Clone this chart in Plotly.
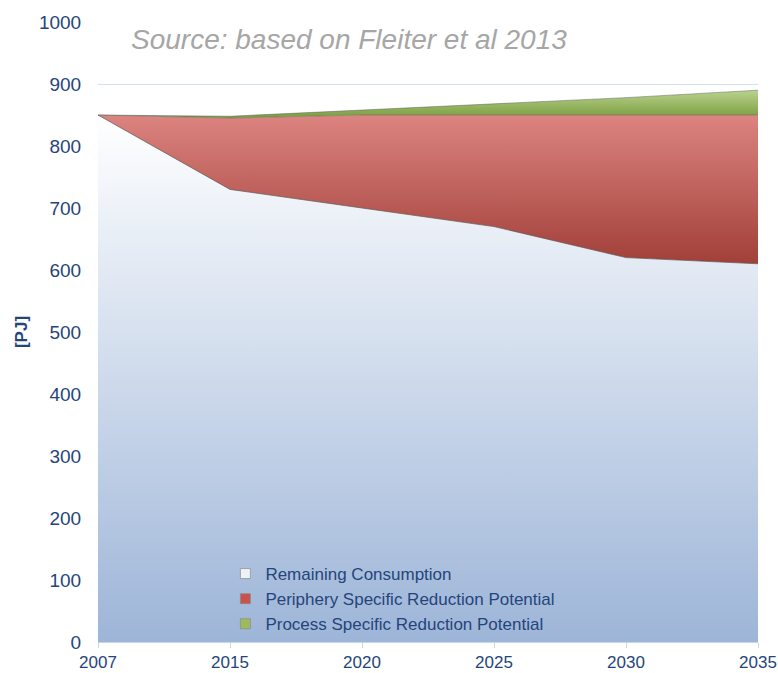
import plotly.graph_objects as go

years = ["2007", "2015", "2020", "2025", "2030", "2035"]
remaining = [850, 730, 700, 670, 620, 610]
periphery = [0, 115, 150, 180, 230, 240]
process = [0, 3, 8, 18, 28, 40]

names = ["Remaining Consumption", "Periphery Specific Reduction Potential",
         "Process Specific Reduction Potential"]
legend_colors = ["#eef2f8", "#c9524c", "#9dbb5c"]

fig = go.Figure()
fig.add_trace(go.Scatter(
    x=years, y=remaining, name=names[0], stackgroup="s", showlegend=False,
    mode="lines", line=dict(color="rgba(90,90,90,0.7)", width=1),
    fillgradient=dict(type="vertical", colorscale=[[0, "#9db5d8"], [1, "#ffffff"]]),
))
fig.add_trace(go.Scatter(
    x=years, y=periphery, name=names[1], stackgroup="s", showlegend=False,
    mode="lines", line=dict(color="rgba(90,90,90,0.5)", width=0.8),
    fillgradient=dict(type="vertical", colorscale=[[0, "#a23f39"], [1, "#dc8480"]]),
))
fig.add_trace(go.Scatter(
    x=years, y=process, name=names[2], stackgroup="s", showlegend=False,
    mode="lines", line=dict(color="rgba(90,90,90,0.6)", width=0.8),
    fillgradient=dict(type="vertical", colorscale=[[0, "#7a9c3e"], [1, "#b9d38e"]]),
))
for n, c in zip(names, legend_colors):
    fig.add_trace(go.Scatter(
        x=[None], y=[None], name=n, mode="markers", showlegend=True,
        marker=dict(symbol="square", size=10, color=c, line=dict(color="#8a8a8a", width=0.7)),
    ))

font_family = "Liberation Sans, Arial, sans-serif"
text_color = "#25457a"

fig.update_layout(
    width=789, height=684,
    margin=dict(l=98, r=22, t=14, b=32),
    paper_bgcolor="white", plot_bgcolor="white",
    showlegend=True,
    legend=dict(x=0.193, y=0.0, xanchor="left", yanchor="bottom",
                bgcolor="rgba(0,0,0,0)", traceorder="normal",
                font=dict(family=font_family, size=17, color=text_color),
                itemwidth=30, tracegroupgap=0),
    xaxis=dict(type="category", range=[0, 5], showgrid=False,
               ticks="outside", ticklen=5, tickcolor="#c8d6ea",
               showline=True, linecolor="#c8d6ea",
               tickfont=dict(family=font_family, size=17, color=text_color)),
    yaxis=dict(range=[0, 1000], dtick=100, showgrid=True, gridcolor="#d3e0f2",
               zeroline=False, showline=False, ticks="",
               tickfont=dict(family=font_family, size=19, color=text_color),
               ticksuffix="   ",
               title=dict(text="<b>[PJ]</b>", font=dict(family=font_family, size=17, color=text_color),
                          standoff=6)),
    annotations=[dict(text="<i>Source: based on Fleiter et al 2013</i>", xref="paper", yref="paper",
                      x=0.047, y=0.972, xanchor="left", yanchor="middle", showarrow=False,
                      font=dict(family=font_family, size=28, color="#a6a6a6"))],
)

fig.write_html(
    "out.html",
    config={"displayModeBar": False},
    post_script=("document.body.style.margin='0';"
                 "document.body.style.overflow='hidden';"
                 "document.documentElement.style.overflow='hidden';"),
)
